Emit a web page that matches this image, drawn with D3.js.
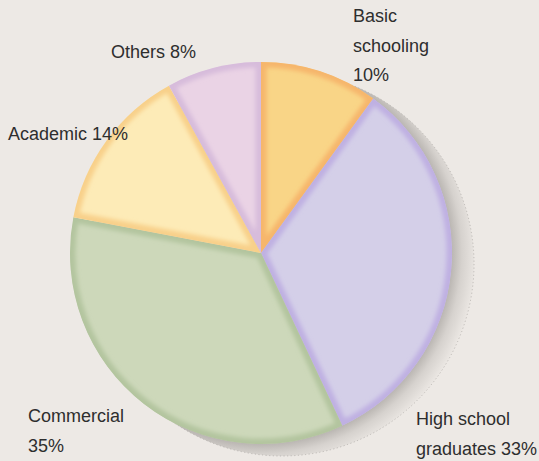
<!DOCTYPE html>
<html>
<head>
<meta charset="utf-8">
<script src="https://cdn.jsdelivr.net/npm/d3@7"></script>
<style>
  html, body { margin: 0; padding: 0; background: #ede9e5; }
  svg { display: block; }
  text { font-family: "Liberation Sans", Arial, sans-serif; font-size: 18px; fill: #2e2e2e; }
</style>
</head>
<body>
<div id="chart"></div>
<script>
// Share of each education group (percent), clockwise from 12 o'clock
const categories = ["Basic schooling", "High school graduates", "Commercial", "Academic", "Others"];
const values = [10, 33, 35, 14, 8];

// Label text broken into lines; the value goes on its own line or after the last word
const labelLines = [["Basic", "schooling"], ["High school", "graduates"], ["Commercial"], ["Academic"], ["Others"]];
const valueOnOwnLine = [true, false, true, false, false];

// Slice fills and the darker tone of their inner rim
const fills = ["#f9d587", "#d4cfe8", "#cdd8ba", "#fdebb7", "#ead3e5"];
const rims  = ["#f6b66c", "#bfb0e2", "#b3c59f", "#f8d08a", "#d7bcdb"];

const W = 539, H = 461;
const cx = 261, cy = 253, R = 191;
const shadowDx = 21, shadowDy = 11;
const lineHeight = 29.5;
// label anchor (left x, first baseline) for each slice
const labelAnchors = [[353, 22], [416, 425], [28, 422], [8, 140], [111, 58]];

const svg = d3.select("#chart").append("svg")
  .attr("width", W).attr("height", H);

svg.append("rect").attr("width", W).attr("height", H).attr("fill", "#ede9e5");

const defs = svg.append("defs");

// Shadow fades outward from the pie's rim
const grad = defs.append("radialGradient")
  .attr("id", "shadowGrad")
  .attr("gradientUnits", "userSpaceOnUse")
  .attr("cx", cx).attr("cy", cy).attr("r", R + 26);
grad.append("stop").attr("offset", 0).attr("stop-color", "#b8b4b0");
grad.append("stop").attr("offset", R / (R + 26)).attr("stop-color", "#bbb7b3");
grad.append("stop").attr("offset", (R + 10) / (R + 26)).attr("stop-color", "#d6d2ce");
grad.append("stop").attr("offset", 1).attr("stop-color", "#ede9e5");

const blur = defs.append("filter").attr("id", "rimBlur")
  .attr("x", "-20%").attr("y", "-20%").attr("width", "140%").attr("height", "140%");
blur.append("feGaussianBlur").attr("stdDeviation", 2.2);

// Drop shadow disc with dotted outline
svg.append("circle")
  .attr("cx", cx + shadowDx).attr("cy", cy + shadowDy).attr("r", R + 1)
  .attr("fill", "url(#shadowGrad)")
  .attr("stroke", "#b3afab")
  .attr("stroke-width", 0.8)
  .attr("stroke-dasharray", "1.2,2.4");

const pie = d3.pie().sort(null).value(d => d.value);
const data = categories.map((c, i) => ({ name: c, value: values[i], i }));
const arcs = pie(data);
const arc = d3.arc().innerRadius(0).outerRadius(R);

const g = svg.append("g").attr("transform", `translate(${cx},${cy})`);

arcs.forEach((a, k) => {
  const id = "clip" + k;
  defs.append("clipPath").attr("id", id)
    .attr("transform", `translate(${cx},${cy})`)
    .append("path").attr("d", arc(a));

  const sg = g.append("g").attr("clip-path", `url(#${id})`)
    .attr("transform", `translate(${-cx},${-cy})`);
  const inner = sg.append("g").attr("transform", `translate(${cx},${cy})`);

  inner.append("path").attr("d", arc(a)).attr("fill", fills[k]);
  inner.append("path").attr("d", arc(a))
    .attr("fill", "none")
    .attr("stroke", rims[k])
    .attr("stroke-width", 11)
    .attr("stroke-linejoin", "round")
    .attr("filter", "url(#rimBlur)");
});

// Labels
const labels = svg.append("g");
arcs.forEach((a, k) => {
  const lines = labelLines[k].slice();
  const pct = a.data.value + "%";
  if (valueOnOwnLine[k]) lines.push(pct);
  else lines[lines.length - 1] += " " + pct;
  const t = labels.append("text")
    .attr("x", labelAnchors[k][0])
    .attr("y", labelAnchors[k][1]);
  lines.forEach((ln, j) => {
    t.append("tspan")
      .attr("x", labelAnchors[k][0])
      .attr("dy", j === 0 ? 0 : lineHeight)
      .text(ln);
  });
});
</script>
</body>
</html>
